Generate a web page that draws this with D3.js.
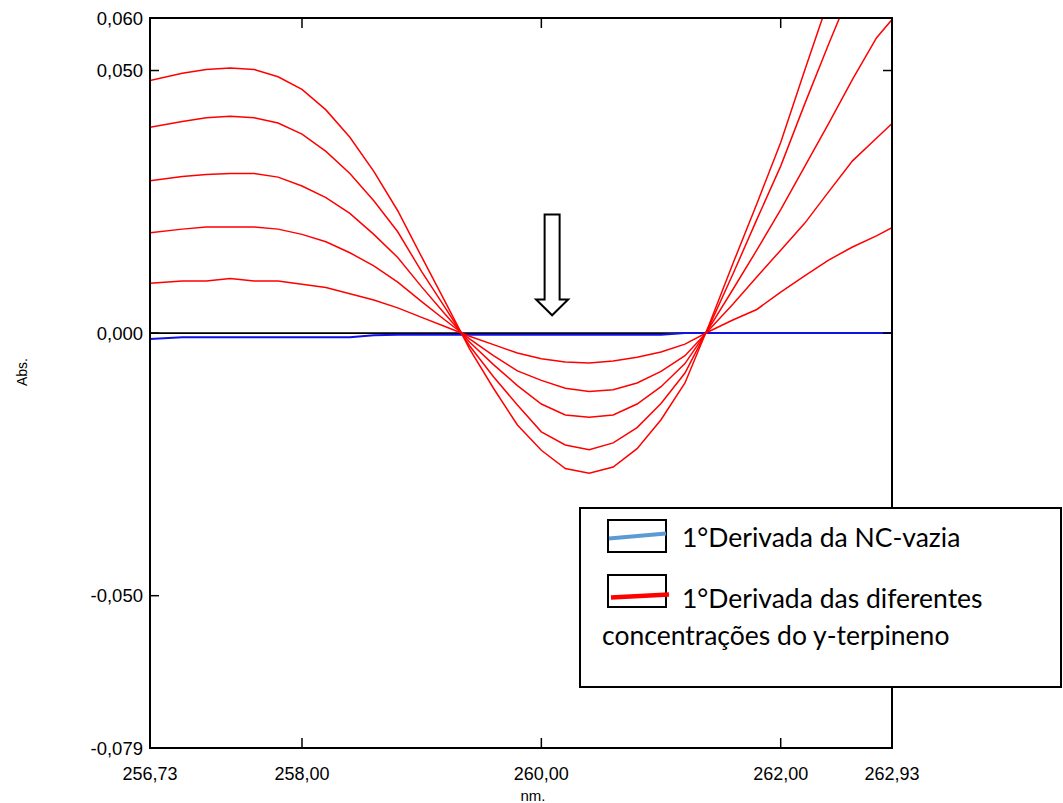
<!DOCTYPE html>
<html>
<head>
<meta charset="utf-8">
<script src="https://cdn.jsdelivr.net/npm/d3@7"></script>
<style>
  body { margin: 0; background: #fff; }
  svg { display: block; }
</style>
</head>
<body>
<div class="canvas-container"></div>
<script>

// wavelengths (nm) of the sampled points
var wavelengths = [256.73, 257.0, 257.2, 257.4, 257.6, 257.8, 258.0, 258.2, 258.4, 258.6,
    258.8, 259.0, 259.2, 259.4, 259.6, 259.8, 260.0, 260.2, 260.4, 260.6,
    260.8, 261.0, 261.2, 261.4, 261.6, 261.8, 262.0, 262.2, 262.4, 262.6,
    262.8, 262.93];

// 1st derivative of the empty NC
var blank = [-0.0011, -0.0008, -0.0008, -0.0008, -0.0008, -0.0008, -0.0008, -0.0008, -0.0008, -0.0004,
    -0.0003, -0.0003, -0.0003, -0.0003, -0.0003, -0.0003, -0.0003, -0.0003, -0.0003, -0.0003,
    -0.0003, -0.0003, 0.0000, 0.0000, 0.0000, 0.0000, 0.0000, 0.0000, 0.0000, 0.0000,
    0.0000, 0.0000];

// 1st derivative, y-terpineno concentrations (low -> high)
var conc1 = [0.0095, 0.0099, 0.0099, 0.0104, 0.0099, 0.0099, 0.0093, 0.0087, 0.0075, 0.0063,
    0.0048, 0.0030, 0.0012, -0.0006, -0.0022, -0.0038, -0.0049, -0.0055, -0.0057, -0.0053,
    -0.0046, -0.0036, -0.0021, 0.0003, 0.0025, 0.0045, 0.0078, 0.0109, 0.0139, 0.0164,
    0.0185, 0.0201];
var conc2 = [0.0191, 0.0198, 0.0202, 0.0202, 0.0202, 0.0198, 0.0188, 0.0174, 0.0153, 0.0128,
    0.0097, 0.0060, 0.0024, -0.0011, -0.0043, -0.0072, -0.0090, -0.0105, -0.0111, -0.0108,
    -0.0095, -0.0073, -0.0043, 0.0006, 0.0055, 0.0107, 0.0158, 0.0209, 0.0269, 0.0328,
    0.0371, 0.0399];
var conc3 = [0.0290, 0.0298, 0.0302, 0.0304, 0.0304, 0.0297, 0.0280, 0.0258, 0.0228, 0.0188,
    0.0144, 0.0088, 0.0035, -0.0017, -0.0060, -0.0100, -0.0135, -0.0156, -0.0160, -0.0156,
    -0.0135, -0.0102, -0.0058, 0.0009, 0.0083, 0.0158, 0.0235, 0.0317, 0.0399, 0.0483,
    0.0562, 0.0597];
var conc4 = [0.0392, 0.0403, 0.0410, 0.0413, 0.0410, 0.0400, 0.0379, 0.0346, 0.0304, 0.0252,
    0.0193, 0.0117, 0.0047, -0.0024, -0.0083, -0.0137, -0.0188, -0.0213, -0.0222, -0.0209,
    -0.0180, -0.0134, -0.0076, 0.0012, 0.0112, 0.0216, 0.0318, 0.0436, 0.0550, 0.0660,
    0.0770, 0.0830];
var conc5 = [0.0481, 0.0495, 0.0502, 0.0505, 0.0502, 0.0488, 0.0464, 0.0425, 0.0373, 0.0308,
    0.0233, 0.0145, 0.0058, -0.0030, -0.0105, -0.0175, -0.0223, -0.0258, -0.0267, -0.0255,
    -0.0220, -0.0165, -0.0095, 0.0015, 0.0132, 0.0246, 0.0363, 0.0500, 0.0634, 0.0750,
    0.0860, 0.0920];

var xTicks = [256.73, 258.0, 260.0, 262.0, 262.93];
var yTicks = [0.060, 0.050, 0.000, -0.050, -0.079];

var legendLabels = ["1°Derivada da NC-vazia", "1°Derivada das diferentes", "concentrações do y-terpineno"];


function drawChart () {

    var svg, plot, x, y, line, width, height, margin, w, h, fmt;

    width = 1063;
    height = 803;
    margin = {top: 18, right: 171, bottom: 55, left: 150};
    w = width - margin.left - margin.right;
    h = height - margin.top - margin.bottom;

    svg = d3.select("div.canvas-container")
        .append("svg")
        .attr("width", width)
        .attr("height", height);

    x = d3.scaleLinear().domain([256.73, 262.93]).range([0, w]);
    y = d3.scaleLinear().domain([-0.079, 0.060]).range([h, 0]);

    fmt = function (d, n) {
        return d.toFixed(n).replace(".", ",");
    };

    plot = svg.append("g")
        .attr("transform", "translate(" + margin.left + "," + margin.top + ")");

    plot.append("clipPath")
        .attr("id", "clip")
        .append("rect")
        .attr("width", w)
        .attr("height", h);

    line = function (vals) {
        return d3.line()
            .x(function (d, i) { return x(wavelengths[i]); })
            .y(function (d) { return y(d); })(vals);
    };

    var series = plot.append("g").attr("clip-path", "url(#clip)");

    // zero line
    series.append("line")
        .attr("x1", 0).attr("x2", w)
        .attr("y1", y(0)).attr("y2", y(0))
        .attr("stroke", "#000")
        .attr("stroke-width", 1.6);

    series.append("path")
        .attr("d", line(blank))
        .attr("fill", "none")
        .attr("stroke", "#1010e8")
        .attr("stroke-width", 2);

    [conc1, conc2, conc3, conc4, conc5].forEach(function (vals) {
        series.append("path")
            .attr("d", line(vals))
            .attr("fill", "none")
            .attr("stroke", "#ff0000")
            .attr("stroke-width", 1.5);
    });

    // frame
    plot.append("rect")
        .attr("width", w)
        .attr("height", h)
        .attr("fill", "none")
        .attr("stroke", "#000")
        .attr("stroke-width", 2);

    // axes (ticks inward, labels outside)
    var xInner = xTicks.slice(1, 4);
    var yInner = yTicks.slice(1, 4);

    plot.selectAll(".xt-b").data(xInner).enter().append("line")
        .attr("x1", x).attr("x2", x)
        .attr("y1", h).attr("y2", h - 10)
        .attr("stroke", "#000").attr("stroke-width", 1.5);
    plot.selectAll(".xt-t").data(xInner).enter().append("line")
        .attr("x1", x).attr("x2", x)
        .attr("y1", 0).attr("y2", 10)
        .attr("stroke", "#000").attr("stroke-width", 1.5);
    plot.selectAll(".yt-l").data(yInner).enter().append("line")
        .attr("x1", 0).attr("x2", 9)
        .attr("y1", y).attr("y2", y)
        .attr("stroke", "#000").attr("stroke-width", 1.5);
    plot.selectAll(".yt-r").data(yInner).enter().append("line")
        .attr("x1", w).attr("x2", w - 9)
        .attr("y1", y).attr("y2", y)
        .attr("stroke", "#000").attr("stroke-width", 1.5);

    plot.selectAll(".xl").data(xTicks).enter().append("text")
        .attr("x", x)
        .attr("y", h + 32)
        .attr("text-anchor", "middle")
        .style("font-family", "'Liberation Sans', Arial, sans-serif")
        .style("font-size", "18px")
        .text(function (d) { return fmt(d, 2); });

    plot.selectAll(".yl").data(yTicks).enter().append("text")
        .attr("x", -7)
        .attr("y", y)
        .attr("dy", "0.36em")
        .attr("text-anchor", "end")
        .style("font-family", "'Liberation Sans', Arial, sans-serif")
        .style("font-size", "18.5px")
        .text(function (d) { return fmt(d, 3); });

    svg.append("text")
        .attr("x", 533)
        .attr("y", 801)
        .attr("text-anchor", "middle")
        .style("font-family", "'Liberation Sans', Arial, sans-serif")
        .style("font-size", "15px")
        .text("nm.");

    svg.append("text")
        .attr("transform", "translate(27,372) rotate(-90)")
        .attr("text-anchor", "middle")
        .style("font-family", "'Liberation Sans', Arial, sans-serif")
        .style("font-size", "14px")
        .text("Abs.");

    // arrow marking the minimum
    var ax = x(260.09), at = y(0.0226), ab = y(0.0064), atip = y(0.0034);
    svg.append("path")
        .attr("transform", "translate(" + margin.left + "," + margin.top + ")")
        .attr("d", "M" + (ax - 7.5) + "," + at + "H" + (ax + 7.5) + "V" + ab +
              "H" + (ax + 16) + "L" + ax + "," + atip + "L" + (ax - 16) + "," + ab +
              "H" + (ax - 7.5) + "Z")
        .attr("fill", "#fff")
        .attr("stroke", "#000")
        .attr("stroke-width", 2);

    // legend
    var lg = svg.append("g");
    lg.append("rect")
        .attr("x", 580).attr("y", 508)
        .attr("width", 481).attr("height", 179)
        .attr("fill", "#fff")
        .attr("stroke", "#000")
        .attr("stroke-width", 2);

    lg.append("rect")
        .attr("x", 608).attr("y", 520)
        .attr("width", 58).attr("height", 32)
        .attr("fill", "none").attr("stroke", "#000").attr("stroke-width", 2);
    lg.append("line")
        .attr("x1", 609).attr("y1", 538.5).attr("x2", 666).attr("y2", 533.5)
        .attr("stroke", "#5b9bd5").attr("stroke-width", 4);

    lg.append("rect")
        .attr("x", 608).attr("y", 575)
        .attr("width", 58).attr("height", 32)
        .attr("fill", "none").attr("stroke", "#000").attr("stroke-width", 2);
    lg.append("line")
        .attr("x1", 611).attr("y1", 597.5).attr("x2", 669).attr("y2", 594.5)
        .attr("stroke", "#ff0000").attr("stroke-width", 4.5);

    var lf = "Lato, 'Open Sans', sans-serif";
    lg.append("text").attr("x", 682).attr("y", 547)
        .style("font-family", lf).style("font-size", "26.5px")
        .text(legendLabels[0]);
    lg.append("text").attr("x", 682).attr("y", 608)
        .style("font-family", lf).style("font-size", "26.5px")
        .text(legendLabels[1]);
    lg.append("text").attr("x", 602).attr("y", 645)
        .style("font-family", lf).style("font-size", "26.5px")
        .text(legendLabels[2]);
}

drawChart();
</script>
</body>
</html>
